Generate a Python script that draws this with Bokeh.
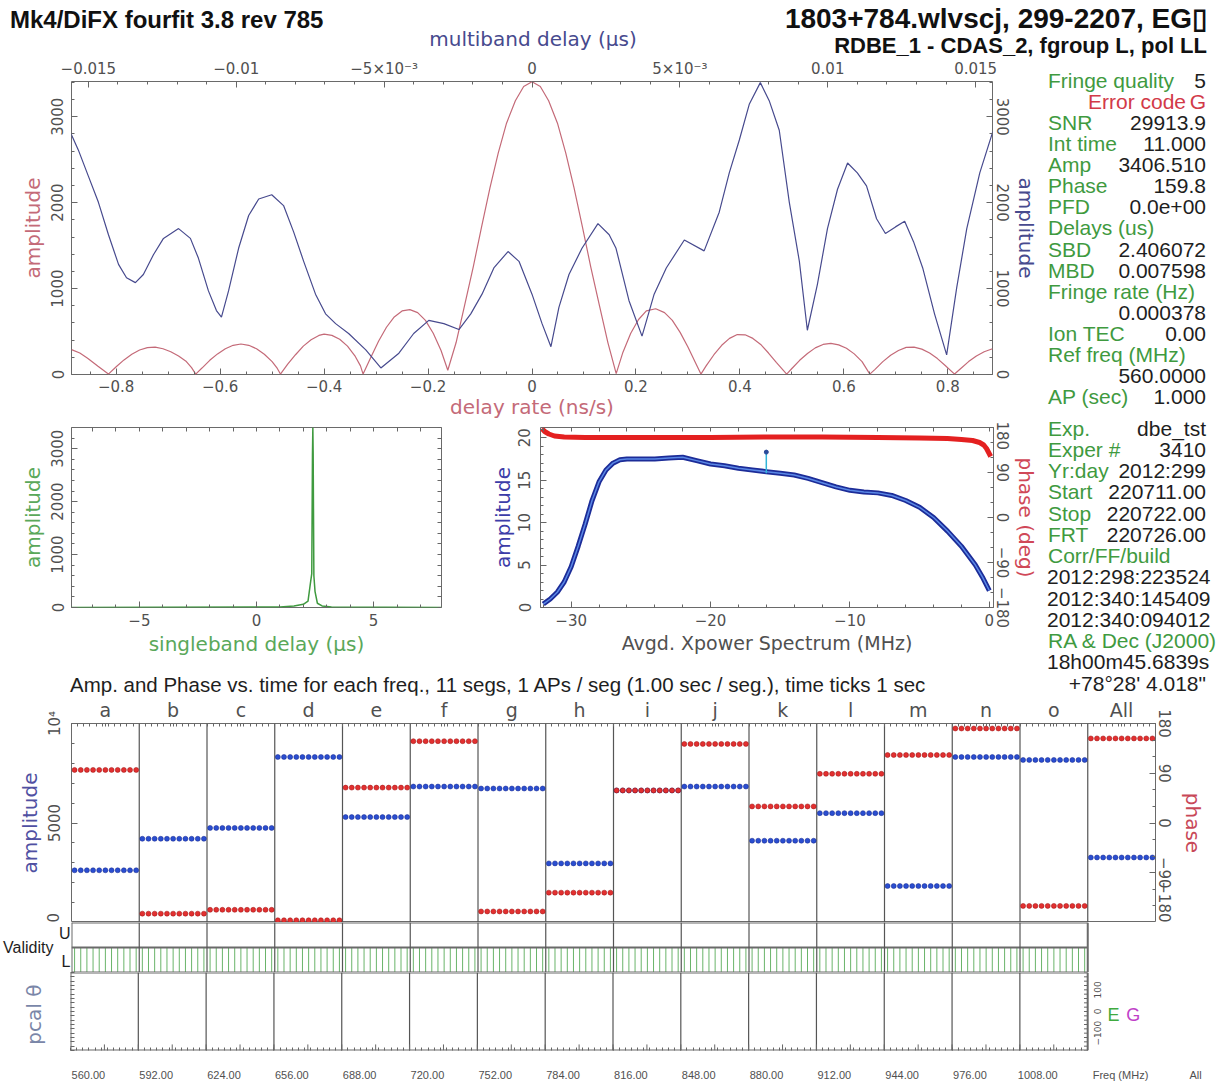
import math
from bokeh.plotting import figure
from bokeh.models import Range1d, LinearAxis, FixedTicker, Div
from bokeh.layouts import column, row
from bokeh.core.properties import value
from bokeh.embed import file_html
from bokeh.resources import INLINE

# ------------------------------------------------------------------ data
rate_x = [-0.886, -0.87, -0.855, -0.835, -0.815,
          -0.80, -0.785, -0.77, -0.755, -0.74, -0.725, -0.71, -0.695, -0.68, -0.665, -0.655, -0.647,
          -0.635, -0.62, -0.605, -0.59, -0.575, -0.56, -0.545, -0.53, -0.515, -0.50, -0.49, -0.484,
          -0.47, -0.455, -0.44, -0.425, -0.41, -0.40, -0.385, -0.37, -0.355, -0.34, -0.33, -0.325,
          -0.31, -0.295, -0.28, -0.265, -0.25, -0.235, -0.22, -0.205, -0.19, -0.175, -0.162,
          -0.146, -0.13, -0.113, -0.097, -0.081, -0.065, -0.049, -0.032, -0.016, 0.0,
          0.016, 0.032, 0.049, 0.065, 0.081, 0.097, 0.113, 0.13, 0.146, 0.162,
          0.175, 0.19, 0.205, 0.22, 0.238, 0.255, 0.27, 0.285, 0.30, 0.315, 0.325,
          0.335, 0.35, 0.365, 0.38, 0.395, 0.41, 0.425, 0.44, 0.455, 0.47, 0.49,
          0.50, 0.515, 0.53, 0.545, 0.56, 0.575, 0.59, 0.605, 0.62, 0.635, 0.65,
          0.66, 0.675, 0.69, 0.705, 0.72, 0.735, 0.75, 0.765, 0.78, 0.795, 0.813,
          0.825, 0.84, 0.855, 0.87, 0.886]
rate_amp = [290, 250, 190, 95, 5,
            90, 170, 235, 285, 312, 318, 300, 265, 215, 150, 80, 5,
            75, 165, 240, 300, 340, 355, 340, 300, 235, 150, 70, 5,
            120, 230, 330, 405, 455, 470, 455, 410, 330, 210, 100, 5,
            200, 390, 550, 670, 740, 755, 720, 630, 480, 280, 50,
            372, 797, 1253, 1719, 2169, 2577, 2925, 3186, 3351, 3406,
            3351, 3186, 2925, 2577, 2169, 1719, 1253, 797, 372, 10,
            260, 480, 640, 740, 765, 720, 630, 490, 320, 130, 5,
            100, 230, 340, 420, 465, 462, 420, 350, 250, 140, 5,
            70, 165, 245, 310, 350, 363, 345, 305, 240, 150, 5,
            60, 150, 225, 280, 315, 318, 295, 250, 185, 105, 5,
            70, 150, 215, 265, 300]

mbd_x = [-0.01564, -0.01534, -0.01500, -0.01466, -0.01432, -0.01398, -0.01371, -0.01341, -0.01314,
         -0.01280, -0.01246, -0.01195, -0.01155, -0.01128, -0.01094, -0.01067, -0.01050, -0.01026,
         -0.00992, -0.00958, -0.00924, -0.00880, -0.00840, -0.00806, -0.00772, -0.00732, -0.00698,
         -0.00664, -0.00620, -0.00562, -0.00511, -0.00450, -0.00400, -0.00349, -0.00298, -0.00247,
         -0.00207, -0.00169, -0.00129, -0.00081, -0.00044, 0.0, 0.00034, 0.00064, 0.00091, 0.00125,
         0.00169, 0.00223, 0.00261, 0.00284, 0.00328, 0.00372, 0.00413, 0.00454, 0.00515, 0.00582,
         0.00633, 0.00667, 0.00701, 0.00735, 0.00772, 0.00802, 0.00836, 0.00870, 0.00904, 0.00931,
         0.00965, 0.00999, 0.01033, 0.01067, 0.01100, 0.01131, 0.01165, 0.01195, 0.01229, 0.01260,
         0.01290, 0.01321, 0.01361, 0.01402, 0.01436, 0.01470, 0.01514, 0.01558]
mbd_amp = [2843, 2614, 2309, 2004, 1626, 1282, 1126, 1069, 1164, 1393, 1584, 1698, 1584, 1355, 973, 744,
           668, 973, 1469, 1851, 2042, 2092, 1966, 1660, 1317, 935, 706, 592, 477, 286, 76, 248, 477, 630,
           592, 523, 706, 935, 1240, 1431, 1317, 935, 592, 324, 782, 1164, 1469, 1756, 1626, 1469, 859,
           447, 935, 1240, 1565, 1439, 1889, 2347, 2729, 3149, 3397, 3187, 2843, 2004, 1317, 515, 1050,
           1698, 2156, 2462, 2347, 2195, 1813, 1641, 1718, 1783, 1546, 1240, 706, 229, 1011, 1698, 2347,
           2825]

sbd_x = [-7.9, 1.0, 1.6, 2.0, 2.2, 2.3, 2.36, 2.39, 2.406, 2.42, 2.45, 2.5, 2.6, 2.8, 3.2, 7.9]
sbd_amp = [0, 10, 30, 60, 120, 450, 640, 2900, 3400, 2900, 600, 300, 80, 30, 10, 0]

xps_freq = [-32.0, -31.5, -31.0, -30.5, -30.0, -29.5, -29.0, -28.5, -28.0, -27.5, -27.0, -26.5, -26.0,
            -25.0, -24.0, -23.0, -22.0, -21.0, -20.0, -19.0, -18.0, -17.0, -16.0, -15.0, -14.0, -13.0,
            -12.0, -11.0, -10.0, -9.0, -8.0, -7.0, -6.0, -5.0, -4.0, -3.0, -2.0, -1.0, -0.5, 0.0]
xps_amp = [0.4, 1.0, 1.8, 3.0, 4.8, 7.2, 9.8, 12.6, 14.8, 16.2, 17.0, 17.4, 17.5, 17.5, 17.5, 17.6, 17.7,
           17.3, 16.9, 16.7, 16.4, 16.2, 16.0, 15.8, 15.6, 15.2, 14.7, 14.2, 13.8, 13.6, 13.5, 13.2, 12.6,
           11.8, 10.6, 9.0, 7.2, 5.0, 3.6, 2.0]
xps_phase_freq = [-32.1, -31.9, -31.6, -31.2, -30.5, -29.0, -25.0, -20.0, -16.0, -12.0, -8.0, -5.0, -3.0,
                  -2.0, -1.2, -0.7, -0.4, -0.2, -0.05, 0.1]
xps_phase = [178, 172, 167, 163, 161, 160, 160, 160, 161, 161, 160, 159, 158, 156, 154, 150, 145, 138,
             130, 122]
spike_freq = [-16.0, -16.0]
spike_amp = [15.8, 18.3]

chan_labels = ["a", "b", "c", "d", "e", "f", "g", "h", "i", "j", "k", "l", "m", "n", "o", "All"]
chan_freqs = ["560.00", "592.00", "624.00", "656.00", "688.00", "720.00", "752.00", "784.00", "816.00",
              "848.00", "880.00", "912.00", "944.00", "976.00", "1008.00"]
chan_amp = [2624, 4208, 4752, 8317, 5297, 6832, 6733, 2970, 6634, 6832, 4109, 5495, 1832, 8317, 8168, 3267]
chan_phase = [96, -164, -157, -176, 64, 148, -160, -126, 59, 143, 30, 89, 123, 171, -150, 153]
n_segs = 11
station_codes = ["E", "G"]

rate_ticks = [-0.8, -0.6, -0.4, -0.2, 0, 0.2, 0.4, 0.6, 0.8]
rate_tick_labels = ["\u22120.8", "\u22120.6", "\u22120.4", "\u22120.2", "0", "0.2", "0.4", "0.6", "0.8"]
mbd_ticks = [-0.015, -0.01, -0.005, 0, 0.005, 0.01, 0.015]
mbd_tick_labels = ["\u22120.015", "\u22120.01", "\u22125\u00d710\u207b\u00b3", "0",
                   "5\u00d710\u207b\u00b3", "0.01", "0.015"]
amp_ticks = [0, 1000, 2000, 3000]
amp_tick_labels = ["0", "1000", "2000", "3000"]
sbd_ticks = [-5, 0, 5]
sbd_tick_labels = ["\u22125", "0", "5"]
xps_ticks = [-30, -20, -10, 0]
xps_tick_labels = ["\u221230", "\u221220", "\u221210", "0"]
xamp_ticks = [0, 5, 10, 15, 20]
xamp_tick_labels = ["0", "5", "10", "15", "20"]
phase_ticks = [-180, -90, 0, 90, 180]
phase_tick_labels = ["\u2212180", "\u221290", "0", "90", "180"]
seg_amp_ticks = [0, 5000, 10000]
seg_amp_tick_labels = ["0", "5000", "10\u2074"]
pcal_ticks = [-100, 0, 100]
pcal_tick_labels = ["\u2212100", "0", "100"]
freq_axis_extra = ["Freq (MHz)", "All"]

info_rows = [("Fringe quality", "5"), ("Error code", "G"), ("SNR", "29913.9"), ("Int time", "11.000"),
             ("Amp", "3406.510"), ("Phase", "159.8"), ("PFD", "0.0e+00"), ("Delays (us)", ""),
             ("SBD", "2.406072"), ("MBD", "0.007598"), ("Fringe rate (Hz)", ""), ("", "0.000378"),
             ("Ion TEC", "0.00"), ("Ref freq (MHz)", ""), ("", "560.0000"), ("AP (sec)", "1.000"),
             ("Exp.", "dbe_tst"), ("Exper #", "3410"), ("Yr:day", "2012:299"), ("Start", "220711.00"),
             ("Stop", "220722.00"), ("FRT", "220726.00"), ("Corr/FF/build", ""),
             ("2012:298:223524", ""), ("2012:340:145409", ""), ("2012:340:094012", ""),
             ("RA &amp; Dec (J2000)", ""), ("18h00m45.6839s", ""), ("", "+78\u00b028' 4.018\"")]

# ------------------------------------------------------------------ styles
TICK_FONT = "DejaVu Sans"
TEXT_FONT = "Liberation Sans"
TICK_COLOR = "#505050"
FRAME = "#6a6a6a"
RATE_RED = "#c46a78"
MBD_BLUE = "#474a8e"
GREEN = "#3f9a3f"
DARK = "#1e1e1e"
W = 1225


def frange(a, b, step):
    n = int(round((b - a) / step))
    return [round(a + i * step, 6) for i in range(n + 1)]


def panel(w, h, xr, yr, lb=0, rb=0, tb=0, bb=0, outline=True):
    p = figure(width=w, height=h, x_range=xr, y_range=yr, title=None, output_backend="svg",
               toolbar_location=None, x_axis_location=None, y_axis_location=None,
               min_border_left=lb, min_border_right=rb, min_border_top=tb, min_border_bottom=bb)
    p.outline_line_color = FRAME if outline else None
    p.background_fill_color = "white"
    p.border_fill_color = "white"
    p.xgrid.visible = False
    p.ygrid.visible = False
    return p


def axis(p, side, ticks, labels, minor, vertical=False, standoff=6, title=None, title_color=TICK_COLOR,
         title_standoff=5, title_size="20px", range_name=None, size="15px", font=TICK_FONT, tick_in=6,
         minor_in=3, label_color=TICK_COLOR):
    kw = {}
    if range_name is not None:
        kw["x_range_name" if side in ("above", "below") else "y_range_name"] = range_name
    ax = LinearAxis(ticker=FixedTicker(ticks=list(ticks), minor_ticks=list(minor)), **kw)
    ax.axis_line_color = None
    ax.major_tick_in = tick_in
    ax.major_tick_out = 0
    ax.minor_tick_in = minor_in
    ax.minor_tick_out = 0
    ax.major_tick_line_color = "#666666"
    ax.minor_tick_line_color = "#666666"
    if labels is not None:
        ax.major_label_overrides = {t: s for t, s in zip(ticks, labels)}
    ax.major_label_text_font = font
    ax.major_label_text_color = label_color
    ax.major_label_text_font_size = size
    ax.major_label_standoff = standoff
    if vertical:
        ax.major_label_orientation = "vertical"
    if title:
        ax.axis_label = title
        ax.axis_label_text_font = TICK_FONT
        ax.axis_label_text_font_size = title_size
        ax.axis_label_text_font_style = "normal"
        ax.axis_label_text_color = title_color
        ax.axis_label_standoff = title_standoff
    p.add_layout(ax, side)
    return ax


def tick_side(p, side, minor, range_name=None, minor_in=4):
    return axis(p, side, [], None, minor, range_name=range_name, tick_in=0, minor_in=minor_in, standoff=0)


def span(x, y, text, size, color=DARK, font=TEXT_FONT, weight="normal", align="left", lh_ratio=1.2):
    lh = round(size * lh_ratio)
    top = y - lh / 2
    if align == "left":
        pos = f"left:{x}px;"
    elif align == "right":
        pos = f"right:{x}px;"
    else:
        pos = f"left:{x}px;transform:translateX(-50%);"
    return (f'<span style="position:absolute;{pos}top:{top:.1f}px;font-family:\'{font}\';'
            f'font-size:{size}px;line-height:{lh}px;font-weight:{weight};color:{color};'
            f'white-space:nowrap;">{text}</span>')


def text_div(w, h, spans):
    html = (f'<div style="position:relative;width:{w}px;height:{h}px;">' + "".join(spans) + "</div>")
    return Div(text=html, width=w, height=h, margin=0)


# ------------------------------------------------------------------ header (y 0..56)
header = text_div(W, 56, [
    span(10, 20, "Mk4/DiFX fourfit 3.8 rev 785", 24, color="#111111", weight="bold", lh_ratio=1.0),
    span(W - 1207, 19, "1803+784.wlvscj, 299-2207, EG\u25af", 28, color="#111111", weight="bold",
         align="right", lh_ratio=1.0),
    span(533, 39, "multiband delay (\u03bcs)", 20, color=MBD_BLUE, font=TICK_FONT, align="center",
         lh_ratio=1.0),
    span(W - 1207, 46, "RDBE_1 - CDAS_2, fgroup L, pol LL", 22, color="#111111", weight="bold",
         align="right", lh_ratio=1.0),
])

# ------------------------------------------------------------------ top plot (y 56..421)
top = panel(1040, 365, Range1d(-0.886, 0.886), Range1d(0, 3410), lb=71, rb=47, tb=22, bb=46)
top.extra_x_ranges = {"mbd": Range1d(-0.01557, 0.01557)}
axis(top, "left", amp_ticks, amp_tick_labels, frange(0, 3400, 200), vertical=True, standoff=8,
     title="amplitude", title_color=RATE_RED, title_standoff=4)
axis(top, "right", amp_ticks, amp_tick_labels, frange(0, 3400, 200), vertical=True, standoff=4,
     title="amplitude", title_color=MBD_BLUE, title_standoff=2)
axis(top, "below", rate_ticks, rate_tick_labels, frange(-0.85, 0.85, 0.05), standoff=5,
     title="delay rate (ns/s)", title_color=RATE_RED, title_standoff=0)
axis(top, "above", mbd_ticks, mbd_tick_labels, frange(-0.015, 0.015, 0.001), standoff=4,
     range_name="mbd")
top.line(rate_x, rate_amp, color=RATE_RED, line_width=1.2)
top.line(mbd_x, mbd_amp, color=MBD_BLUE, line_width=1.2, x_range_name="mbd")

# ------------------------------------------------------------------ singleband delay (y 421..670)
sbd = panel(470, 249, Range1d(-7.9, 7.9), Range1d(0, 3400), lb=71, rb=29, tb=6, bb=63)
axis(sbd, "left", amp_ticks, amp_tick_labels, frange(0, 3400, 200), vertical=True, standoff=8,
     title="amplitude", title_color="#5aa85a", title_standoff=4)
axis(sbd, "below", sbd_ticks, sbd_tick_labels, frange(-7, 7, 1), standoff=6,
     title="singleband delay (\u03bcs)", title_color="#5aa85a", title_standoff=3)
tick_side(sbd, "above", frange(-7, 7, 1))
tick_side(sbd, "right", frange(0, 3400, 200))
sbd.line(sbd_x, sbd_amp, color=GREEN, line_width=1.5)

# ------------------------------------------------------------------ cross-power spectrum
xps = panel(570, 249, Range1d(-32.2, 0.3), Range1d(0, 21.2), lb=70, rb=46, tb=6, bb=63)
xps.extra_y_ranges = {"phase": Range1d(-180, 180)}
axis(xps, "left", xamp_ticks, xamp_tick_labels, frange(0, 21, 1), vertical=True, standoff=10,
     title="amplitude", title_color="#3c3ca8", title_standoff=1)
axis(xps, "right", phase_ticks, phase_tick_labels, frange(-180, 180, 30), vertical=True, standoff=3,
     title="phase (deg)", title_color="#d04858", title_standoff=2, range_name="phase")
axis(xps, "below", xps_ticks, xps_tick_labels, frange(-32, 0, 2), standoff=6,
     title="Avgd. Xpower Spectrum (MHz)", title_color="#505050", title_standoff=3, title_size="19px")
tick_side(xps, "above", frange(-32, 0, 2))
xps.line(xps_phase_freq, xps_phase, color="#e42020", line_width=5, y_range_name="phase")
xps.line(xps_freq, xps_amp, color="#1c2c98", line_width=5)
xps.line(xps_freq, xps_amp, color="#5a88e6", line_width=1.5)
xps.line(spike_freq, spike_amp, color="#30b4d8", line_width=1.5)
xps.scatter(spike_freq[1:], spike_amp[1:], size=4, color="#2a4a9a")

# ------------------------------------------------------------------ bottom title (y 670..695)
title_div = text_div(1040, 25, [
    span(70, 14, "Amp. and Phase vs. time for each freq., 11 segs, 1 APs / seg (1.00 sec / seg.), "
                 "time ticks 1 sec", 20.5),
])

# ------------------------------------------------------------------ info panel (x 1040..W, y 56..695)
spans = []
for i, (name, val) in enumerate(info_rows):
    py = (80 + i * 21.13 if i < 16 else 428 + (i - 16) * 21.25) - 56
    if i == 1:
        spans.append(span(W - 1186, py, name, 21, color="#d23a48", align="right"))
        spans.append(span(W - 1206, py, val, 21, color="#d23a48", align="right"))
        continue
    if name:
        dark = name[0].isdigit()
        spans.append(span(7 if dark else 8, py, name, 21, color=DARK if dark else GREEN))
    if val:
        spans.append(span(W - 1206, py, val, 21, color=DARK, align="right"))
info = text_div(W - 1040, 639, spans)

# ------------------------------------------------------------------ amp / phase per channel (y 695..922)
n_ch = len(chan_labels)
n_fc = len(chan_freqs)
seg_x, seg_amp, seg_phase = [], [], []
for k in range(n_ch):
    for s in range(n_segs):
        seg_x.append(k * n_segs + s + 0.5)
        seg_amp.append(chan_amp[k])
        seg_phase.append(chan_phase[k])
bounds = [k * n_segs for k in range(1, n_ch)]
centers = [k * n_segs + n_segs / 2 for k in range(n_ch)]
xmax = n_ch * n_segs
fmax = n_fc * n_segs
LB, RB = 70, W - 1155
PX = (1155 - LB) / xmax          # pixels per segment

amp = panel(W, 227, Range1d(0, xmax), Range1d(0, 10000), lb=LB, rb=RB, tb=25, bb=0)
amp.extra_y_ranges = {"phase": Range1d(-180, 180)}
axis(amp, "above", centers, chan_labels, list(range(0, xmax + 1)), standoff=3, size="19px",
     tick_in=3, minor_in=3)
axis(amp, "left", seg_amp_ticks, seg_amp_tick_labels, frange(0, 10000, 1000), vertical=True, standoff=8,
     title="amplitude", title_color="#5050a2", title_standoff=1)
axis(amp, "right", phase_ticks, phase_tick_labels, frange(-180, 180, 30), vertical=True, standoff=3,
     title="phase", title_color="#c84858", title_standoff=7, range_name="phase")
amp.segment(x0=bounds, y0=0, x1=bounds, y1=10000, color="#555555", line_width=1.2)
amp.scatter(seg_x, seg_amp, size=5, fill_color="#2a4ed0", line_color="#14248a", line_width=0.5)
amp.scatter(seg_x, seg_phase, size=5, fill_color="#e23030", line_color="#9a1010", line_width=0.5,
            y_range_name="phase")

# ------------------------------------------------------------------ validity (y 922..972)
val_x = [k * n_segs + s + 0.5 for k in range(n_fc) for s in range(n_segs)]
vbounds = [k * n_segs for k in range(1, n_fc)]
val = panel(W, 50, Range1d(0, xmax), Range1d(0, 2), lb=LB, rb=RB, outline=False)
axis(val, "left", [0.45, 1.55], ["L", "U"], [], standoff=1, size="16px", font=TEXT_FONT,
     tick_in=0, minor_in=0, label_color=DARK)
axis(val, "left", [1.0], ["Validity"], [], standoff=2, size="16px", font=TEXT_FONT,
     tick_in=0, minor_in=0, label_color=DARK)
val.segment(x0=val_x, y0=0, x1=val_x, y1=1, color="#6ab46a", line_width=1)
val.segment(x0=[0, 0, 0], y0=[0, 1, 2], x1=[fmax, fmax, fmax], y1=[0, 1, 2], color=FRAME, line_width=2)
val.segment(x0=[0, fmax], y0=[0, 0], x1=[0, fmax], y1=[2, 2], color=FRAME, line_width=2)
val.segment(x0=vbounds, y0=0, x1=vbounds, y1=2, color="#555555", line_width=1.2)

# ------------------------------------------------------------------ pcal (y 972..1084), own borders
pmax = (W - LB) / PX
pcal = panel(W, 112, Range1d(0, pmax), Range1d(-180, 180), lb=LB, rb=0, bb=34, outline=False)
axis(pcal, "left", [], None, frange(-180, 180, 20), standoff=0, tick_in=0, minor_in=4,
     title="pcal  \u03b8", title_color="#7a86a8", title_standoff=25)
freq_pos = [k * n_segs + 2.9 for k in range(n_fc)] + [(1120 - LB) / PX, (1195 - LB) / PX]
axis(pcal, "below", freq_pos, chan_freqs + freq_axis_extra, list(range(0, fmax + 1)), standoff=18,
     size="11px", font=TEXT_FONT, tick_in=0, minor_in=3)
pcal.segment(x0=[0, 0], y0=[-180, 180], x1=[fmax, fmax], y1=[-180, 180], color=FRAME, line_width=2)
pcal.segment(x0=[0, fmax], y0=[-180, -180], x1=[0, fmax], y1=[180, 180], color=FRAME, line_width=2)
pcal.segment(x0=vbounds, y0=-180, x1=vbounds, y1=180, color="#555555", line_width=1.2)
long_ticks = [k * n_segs / 2 for k in range(1, 2 * n_fc)]
pcal.segment(x0=long_ticks, y0=-180, x1=long_ticks, y1=-152, color="#666666", line_width=1)
pc_minor = frange(-180, 180, 20)
pcal.segment(x0=[fmax] * len(pc_minor), y0=pc_minor, x1=[fmax - 0.6] * len(pc_minor), y1=pc_minor,
             color="#666666", line_width=1)
pcal.text(x=[fmax + 1.6] * len(pcal_ticks), y=pcal_ticks, text=pcal_tick_labels, angle=math.pi / 2,
          text_font=value(TICK_FONT), text_font_size="9px", text_color=TICK_COLOR,
          text_align="center", text_baseline="middle")
pcal.text(x=[fmax + 4.2, fmax + 7.4], y=[-18, -18], text=station_codes,
          text_color=["#3faa3f", "#c040c8"], text_font=value(TEXT_FONT), text_font_size="18px",
          text_align="center", text_baseline="middle")

# ------------------------------------------------------------------ layout
left_col = column(top, row(sbd, xps), title_div)
layout = column(header, row(left_col, info), amp, val, row(pcal))

open("out.html", "w").write(file_html(layout, INLINE))
